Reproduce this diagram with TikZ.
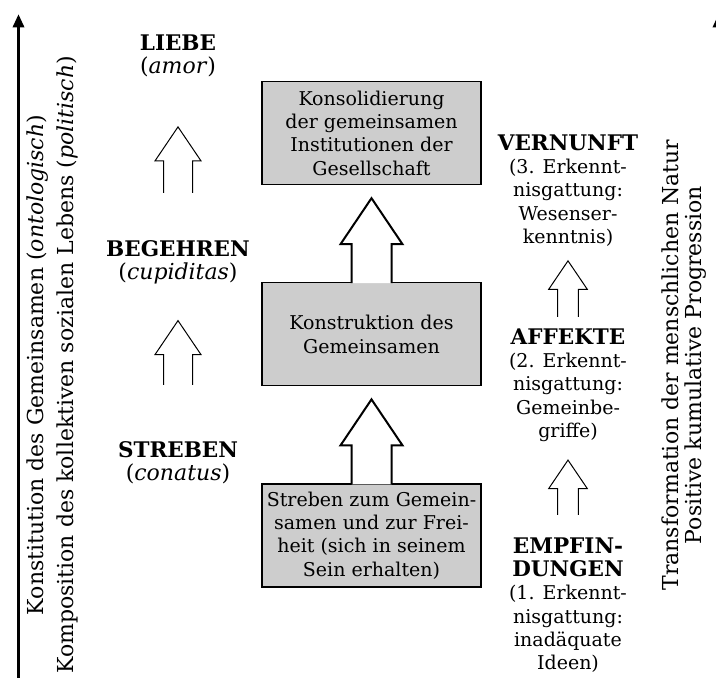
\documentclass[tikz,border=0pt]{standalone}
\usepackage{fontspec}
\setmainfont{DejaVu Serif}
\usetikzlibrary{positioning,calc,arrows.meta}
\definecolor{boxgray}{RGB}{205,205,205}
\newcommand\bodyfont{\fontsize{19}{23.3}\selectfont}
\newcommand\leftfont{\fontsize{22}{23.3}\selectfont}
\newcommand\headfont{\fontsize{21.5}{23.3}\selectfont\bfseries}
\newcommand\sidefont{\fontsize{22}{30}\selectfont}
\newcommand\sidefontr{\fontsize{22}{23.3}\selectfont}
\tikzset{
hollow/.style n args={3}{to path={let \p1=(\tikztostart), \p2=(\tikztotarget) in
(\x1-#2,\y1) -- (\x1-#2,\y2-#3) -- (\x1-#1,\y2-#3) -- (\x1,\y2)
-- (\x1+#1,\y2-#3) -- (\x1+#2,\y2-#3) -- (\x1+#2,\y1)}},
}
\begin{document}
\begin{tikzpicture}[x=1pt,y=1pt,
box/.style={draw,line width=1.2pt,fill=boxgray,minimum width=219pt,minimum height=103pt,inner sep=0pt,align=center,font=\bodyfont},
lbl/.style={align=center,inner sep=0pt,anchor=north,font=\bodyfont},
axis/.style={line width=3.5pt,-{Triangle[length=13.5pt,width=11pt]}},
bigup/.style={fill=white,line width=2pt,hollow={31pt}{20pt}{46pt}},
leftup/.style={line width=1pt,hollow={23pt}{14.5pt}{34pt}},
rightup/.style={line width=1pt,hollow={19.3pt}{10.4pt}{28.5pt}}]
\useasboundingbox (0,0) rectangle (716,678);
\coordinate(a0) at (18.5,-5);
\coordinate(a1) at (18.5,664);
\coordinate(c0) at (718.5,-5);
\coordinate(c1) at (718.5,664);
\draw[axis](a0)--(a1);
\draw[axis](c0)--(c1);
\node[rotate=90,align=center,inner sep=0pt,font=\sidefont](s1) at (52,313)
{Konstitution des Gemeinsamen (\textit{ontologisch})\\Komposition des kollektiven sozialen Lebens (\textit{politisch})};
\node[rotate=90,align=center,inner sep=0pt,font=\sidefontr](s2) at (684,313)
{Transformation der menschlichen Natur\\Positive kumulative Progression};
\node[box](b3) at (371.5,142.5) {Streben zum Gemein-\\samen und zur Frei-\\heit (sich in seinem\\Sein erhalten)};
\node[box,above=97pt of b3](b2) {Konstruktion des\\Gemeinsamen};
\node[box,above=97pt of b2](b1) {Konsolidierung\\der gemeinsamen\\Institutionen der\\Gesellschaft};
\draw[bigup]([yshift=-1pt]b3.north) to ([yshift=-13pt]b2.south);
\draw[bigup]([yshift=-1pt]b2.north) to ([yshift=-13pt]b1.south);
\node[lbl,font=\leftfont](l1) at (178,643.7) {{\headfont LIEBE}\\(\textit{amor})};
\node[lbl,font=\leftfont](l2) at (178,437.7) {{\headfont BEGEHREN}\\(\textit{cupiditas})};
\node[lbl,font=\leftfont](l3) at (178,236.7) {{\headfont STREBEN}\\(\textit{conatus})};
\draw[leftup]([yshift=47.3pt]l2.north) to ([yshift=-49.8pt]l1.south);
\draw[leftup]([yshift=56.3pt]l3.north) to ([yshift=-36.1pt]l2.south);
\node[lbl](r1) at (568,543.7) {{\headfont VERNUNFT}\\(3. Erkennt-\\nisgattung:\\Wesenser-\\kenntnis)};
\node[lbl](r2) at (568,349.7) {{\headfont AFFEKTE}\\(2. Erkennt-\\nisgattung:\\Gemeinbe-\\griffe)};
\node[lbl](r3) at (568,140.7) {{\headfont EMPFIN-}\\{\headfont DUNGEN}\\(1. Erkennt-\\nisgattung:\\inadäquate\\Ideen)};
\draw[rightup]([yshift=11.3pt]r2.north) to ([yshift=-14.3pt]r1.south);
\draw[rightup]([yshift=22.3pt]r3.north) to ([yshift=-18.3pt]r2.south);
\end{tikzpicture}
\end{document}
